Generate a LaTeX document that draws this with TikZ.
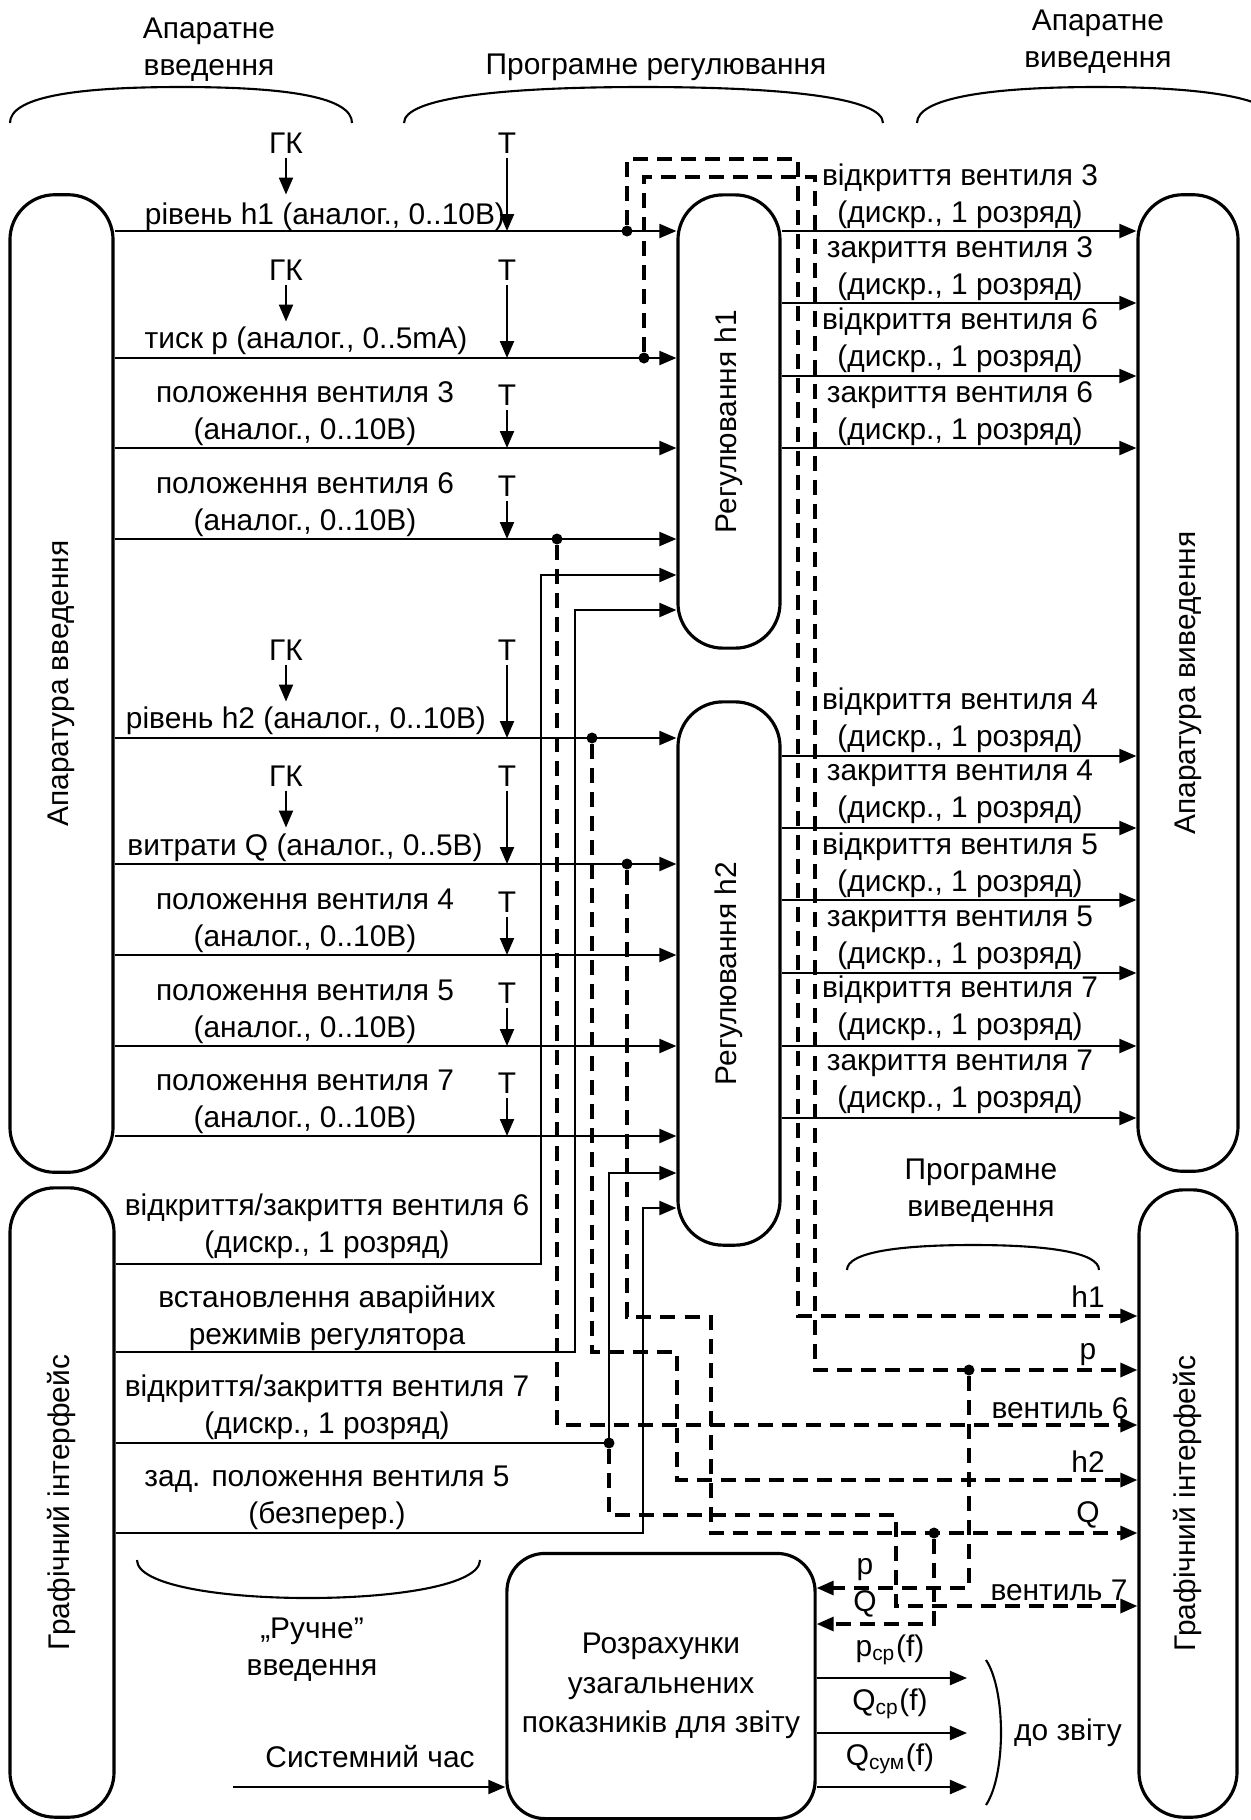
\documentclass[tikz,border=0pt]{standalone}
\usepackage{fontspec}
\setmainfont{Liberation Sans}
\usepackage{tikz}
\usetikzlibrary{arrows.meta,positioning,calc}

\tikzset{
  blk/.style={draw, line width=0.9pt, rounded corners=0.45cm, inner sep=0pt},
  sig/.style={line width=0.6pt},
  prog/.style={line width=0.9pt, dash pattern=on 1.5mm off 0.9mm},
  jdot/.style={circle, fill, inner sep=0pt, minimum size=1.1mm},
  txt/.style={inner sep=0pt, align=center},
  tk/.style={inner sep=1pt},
}

\begin{document}
\begin{tikzpicture}[x=0.01cm, y=-0.01cm, >={Triangle[length=1.7mm,width=1.4mm]},
    font=\fontsize{8.5}{10.5}\selectfont]
    \useasboundingbox (0,0) rectangle (1250,1820);

    % blocks
    \node[blk, minimum width=1.03cm, minimum height=9.77cm,
          label={[rotate=90]center:Апаратура введення}] (inL) at (61.5,683.5) {};
    \node[blk, minimum width=1.04cm, minimum height=6.29cm,
          label={[rotate=90]center:Графічний інтерфейс}] (guiL) at (62,1502.5) {};
    \node[blk, minimum width=1.02cm, minimum height=4.53cm,
          label={[rotate=90]center:Регулювання h1}] (regA) at (729,421.5) {};
    \node[blk, minimum width=1.02cm, minimum height=5.43cm,
          label={[rotate=90]center:Регулювання h2}] (regB) at (729,973.5) {};
    \node[blk, minimum width=1.00cm, minimum height=9.76cm,
          label={[rotate=90]center:Апаратура виведення}] (outR) at (1188,683) {};
    \node[blk, minimum width=0.98cm, minimum height=6.27cm,
          label={[rotate=90]center:Графічний інтерфейс}] (guiR) at (1188,1503.5) {};
    \node[blk, rounded corners=0.38cm, minimum width=3.08cm, minimum height=2.65cm,
          align=center, font=\fontsize{8.5}{11.3}\selectfont] (calc) at (661,1686)
          {Розрахунки\\узагальнених\\показників для звіту};

    % top headings
    \node[txt] (hwin) at (209,50) {Апаратне\\введення};
    \node[txt] (swreg) at (656,67) {Програмне регулювання};
    \node[txt] (hwout) at (1098,42) {Апаратне\\виведення};
    \draw[sig] (10,123) .. controls (10,98) and (70,87) .. (181,87)
               .. controls (292,87) and (352,98) .. (352,123);
    \draw[sig] (404,123) .. controls (404,98) and (500,87) .. (643,87)
               .. controls (786,87) and (883,98) .. (883,123);
    \draw[sig] (917,123) .. controls (917,98) and (990,87) .. (1097,87)
               .. controls (1204,87) and (1277,98) .. (1277,123);

    % row levels
    \coordinate (rh1) at (0,231);
    \coordinate (rp)  at (0,358);
    \coordinate (rv3) at (0,448);
    \coordinate (rv6) at (0,539);
    \coordinate (rh2) at (0,738);
    \coordinate (rq)  at (0,864);
    \coordinate (rv4) at (0,955);
    \coordinate (rv5) at (0,1046);
    \coordinate (rv7) at (0,1136);

    % hardware inputs
    \node[tk] (gk1) at (286,143) {ГК};
    \node[tk] (t1) at (507,143) {Т};
    \draw[sig,->] (gk1.south) -- ++(0,37);
    \node[txt] (lh1) at (325,217) {рівень h1 (аналог., 0..10В)};
    \draw[sig,->] (inL.east |- rh1) -- (regA.west |- rh1);
    \draw[sig,->] (t1.south) -- (t1 |- rh1);

    \node[tk] (gk2) at (286,270) {ГК};
    \node[tk] (t2) at (507,270) {Т};
    \draw[sig,->] (gk2.south) -- ++(0,37);
    \node[txt] (lp) at (306,341) {тиск p (аналог., 0..5mA)};
    \draw[sig,->] (inL.east |- rp) -- (regA.west |- rp);
    \draw[sig,->] (t2.south) -- (t2 |- rp);

    \node[tk] (t3) at (507,395) {Т};
    \node[txt] (lv3) at (305,413.5) {положення вентиля 3\\(аналог., 0..10В)};
    \draw[sig,->] (inL.east |- rv3) -- (regA.west |- rv3);
    \draw[sig,->] (t3.south) -- (t3 |- rv3);

    \node[tk] (t4) at (507,486) {Т};
    \node[txt] (lv6) at (305,504.5) {положення вентиля 6\\(аналог., 0..10В)};
    \draw[sig,->] (inL.east |- rv6) -- (regA.west |- rv6);
    \draw[sig,->] (t4.south) -- (t4 |- rv6);

    \node[tk] (gk3) at (286,650) {ГК};
    \node[tk] (t5) at (507,650) {Т};
    \draw[sig,->] (gk3.south) -- ++(0,37);
    \node[txt] (lh2) at (306,721) {рівень h2 (аналог., 0..10В)};
    \draw[sig,->] (inL.east |- rh2) -- (regB.west |- rh2);
    \draw[sig,->] (t5.south) -- (t5 |- rh2);

    \node[tk] (gk4) at (286,776) {ГК};
    \node[tk] (t6) at (507,776) {Т};
    \draw[sig,->] (gk4.south) -- ++(0,37);
    \node[txt] (lq) at (305,848) {витрати Q (аналог., 0..5В)};
    \draw[sig,->] (inL.east |- rq) -- (regB.west |- rq);
    \draw[sig,->] (t6.south) -- (t6 |- rq);

    \node[tk] (t7) at (507,902) {Т};
    \node[txt] (lv4) at (305,920.5) {положення вентиля 4\\(аналог., 0..10В)};
    \draw[sig,->] (inL.east |- rv4) -- (regB.west |- rv4);
    \draw[sig,->] (t7.south) -- (t7 |- rv4);

    \node[tk] (t8) at (507,993) {Т};
    \node[txt] (lv5) at (305,1011.5) {положення вентиля 5\\(аналог., 0..10В)};
    \draw[sig,->] (inL.east |- rv5) -- (regB.west |- rv5);
    \draw[sig,->] (t8.south) -- (t8 |- rv5);

    \node[tk] (t9) at (507,1083) {Т};
    \node[txt] (lv7) at (305,1101.5) {положення вентиля 7\\(аналог., 0..10В)};
    \draw[sig,->] (inL.east |- rv7) -- (regB.west |- rv7);
    \draw[sig,->] (t9.south) -- (t9 |- rv7);

    % hardware outputs of h1
    \coordinate (qa1) at (0,231);
    \coordinate (qa2) at (0,303);
    \coordinate (qa3) at (0,376);
    \coordinate (qa4) at (0,448);
    \node[txt] (oa1) at (960,196) {відкриття вентиля 3\\(дискр., 1 розряд)};
    \node[txt] (oa2) at (960,268.5) {закриття вентиля 3\\(дискр., 1 розряд)};
    \node[txt] (oa3) at (960,340) {відкриття вентиля 6\\(дискр., 1 розряд)};
    \node[txt] (oa4) at (960,414) {закриття вентиля 6\\(дискр., 1 розряд)};
    \draw[sig,->] (regA.east |- qa1) -- (outR.west |- qa1);
    \draw[sig,->] (regA.east |- qa2) -- (outR.west |- qa2);
    \draw[sig,->] (regA.east |- qa3) -- (outR.west |- qa3);
    \draw[sig,->] (regA.east |- qa4) -- (outR.west |- qa4);

    % hardware outputs of h2
    \coordinate (qb1) at (0,756);
    \coordinate (qb2) at (0,828);
    \coordinate (qb3) at (0,900);
    \coordinate (qb4) at (0,973);
    \coordinate (qb5) at (0,1046);
    \coordinate (qb6) at (0,1118);
    \node[txt] (ob1) at (960,720.5) {відкриття вентиля 4\\(дискр., 1 розряд)};
    \node[txt] (ob2) at (960,791.5) {закриття вентиля 4\\(дискр., 1 розряд)};
    \node[txt] (ob3) at (960,865) {відкриття вентиля 5\\(дискр., 1 розряд)};
    \node[txt] (ob4) at (960,937.5) {закриття вентиля 5\\(дискр., 1 розряд)};
    \node[txt] (ob5) at (960,1008.5) {відкриття вентиля 7\\(дискр., 1 розряд)};
    \node[txt] (ob6) at (960,1081.5) {закриття вентиля 7\\(дискр., 1 розряд)};
    \draw[sig,->] (regB.east |- qb1) -- (outR.west |- qb1);
    \draw[sig,->] (regB.east |- qb2) -- (outR.west |- qb2);
    \draw[sig,->] (regB.east |- qb3) -- (outR.west |- qb3);
    \draw[sig,->] (regB.east |- qb4) -- (outR.west |- qb4);
    \draw[sig,->] (regB.east |- qb5) -- (outR.west |- qb5);
    \draw[sig,->] (regB.east |- qb6) -- (outR.west |- qb6);

    % manual inputs from the GUI
    \node[txt] (mv6) at (327,1226) {відкриття/закриття вентиля 6\\(дискр., 1 розряд)};
    \node[txt] (mav) at (327,1318) {встановлення аварійних\\режимів регулятора};
    \node[txt] (mv7) at (327,1407) {відкриття/закриття вентиля 7\\(дискр., 1 розряд)};
    \node[txt] (mv5) at (327,1498) {зад. положення вентиля 5\\(безперер.)};
    \coordinate (g6) at (541,1264);
    \coordinate (gav) at (575,1352);
    \coordinate (g5) at (643,1533);
    \coordinate (a6) at (0,575);
    \coordinate (aav) at (0,610);
    \coordinate (b7) at (0,1173);
    \coordinate (b5) at (0,1208);
    \node[jdot] (jv7) at (609,1443) {};
    \draw[sig,->] (guiL.east |- g6) -- (g6) |- (regA.west |- a6);
    \draw[sig,->] (guiL.east |- gav) -- (gav) |- (regA.west |- aav);
    \draw[sig,->] (guiL.east |- jv7) -- (jv7.center) |- (regB.west |- b7);
    \draw[sig,->] (guiL.east |- g5) -- (g5) |- (regB.west |- b5);

    \draw[sig] (137,1560) .. controls (137,1585) and (220,1598) .. (308,1598)
               .. controls (396,1598) and (480,1585) .. (480,1560);
    \node[txt] (manual) at (312,1650) {„Ручне”\\введення};

    % program outputs to the GUI
    \node[txt] (swout) at (981,1191) {Програмне\\виведення};
    \draw[sig] (847,1270) .. controls (847,1252) and (900,1245) .. (973,1245)
               .. controls (1046,1245) and (1099,1252) .. (1099,1270);
    \node[jdot] (jh1) at (627,231) {};
    \node[jdot] (jp) at (644,358) {};
    \node[jdot] (jv6) at (557,539) {};
    \node[jdot] (jh2) at (592,738) {};
    \node[jdot] (jq) at (627,864) {};
    \coordinate (ch1) at (798,159);
    \coordinate (cp) at (815,177);
    \coordinate (ch2) at (677,1352);
    \coordinate (cq) at (711,1317);
    \coordinate (cv7) at (896,1515);
    \coordinate (oh1) at (0,1316);
    \coordinate (op) at (0,1370);
    \coordinate (ov6) at (0,1425);
    \coordinate (oh2) at (0,1480);
    \coordinate (oq) at (0,1533);
    \coordinate (ov7) at (0,1606);
    \draw[prog,->] (jh1) |- (ch1) |- (guiR.west |- oh1);
    \draw[prog,->] (jp) |- (cp) |- (guiR.west |- op);
    \draw[prog,->] (jv6) |- (guiR.west |- ov6);
    \draw[prog,->] (jh2) |- (ch2) |- (guiR.west |- oh2);
    \draw[prog,->] (jq) |- (cq) |- (guiR.west |- oq);
    \draw[prog,->] (jv7) |- (cv7) |- (guiR.west |- ov7);
    \node[txt] (nh1) at (1088,1297) {h1};
    \node[txt] (np) at (1088,1355) {p};
    \node[txt] (nv6) at (1060,1408) {вентиль 6};
    \node[txt] (nh2) at (1088,1462) {h2};
    \node[txt] (nq) at (1088,1515) {Q};
    \node[txt] (nv7) at (1059,1590) {вентиль 7};

    % values for the report
    \node[jdot] (kp) at (969,1370) {};
    \node[jdot] (kq) at (934,1533) {};
    \coordinate (ip) at (0,1588);
    \coordinate (iq) at (0,1624);
    \draw[prog,->] (kp) |- (calc.east |- ip);
    \draw[prog,->] (kq) |- (calc.east |- iq);
    \node[txt] (cpl) at (865,1570) {p};
    \node[txt] (cql) at (865,1604) {Q};

    \coordinate (tm) at (233,1787);
    \node[txt] (tml) at (370,1757) {Системний час};
    \draw[sig,->] (tm) -- (calc.west |- tm);

    \coordinate (z1) at (967,1678);
    \coordinate (z2) at (967,1733);
    \coordinate (z3) at (967,1787);
    \draw[sig,->] (calc.east |- z1) -- (z1);
    \draw[sig,->] (calc.east |- z2) -- (z2);
    \draw[sig,->] (calc.east |- z3) -- (z3);
    \node[txt] (pav) at (890,1650) {p\textsubscript{ср}(f)};
    \node[txt] (qav) at (890,1704) {Q\textsubscript{ср}(f)};
    \node[txt] (qsum) at (890,1759) {Q\textsubscript{сум}(f)};
    \draw[sig] (986,1660) .. controls (1006,1690) and (1006,1775) .. (986,1805);
    \node[txt] (rep) at (1068,1733) {до звіту};
\end{tikzpicture}
\end{document}
